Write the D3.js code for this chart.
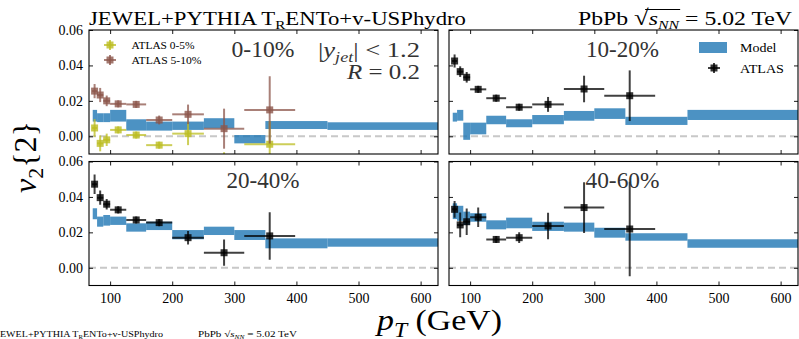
<!DOCTYPE html>
<html>
<head>
<meta charset="utf-8">
<script src="https://cdn.jsdelivr.net/npm/d3@7"></script>
<style>
  body { margin: 0; background: #fff; }
  text { font-family: "Liberation Serif", serif !important; }
</style>
</head>
<body>
<svg id="chart" width="799" height="339" font-family="Liberation Serif"></svg>
<script>
// model bins (pT, GeV) and bands
const modelEdges = [72, 79, 89, 100, 126, 158, 200, 251, 300, 350, 450, 700];
const model0_10Lo = [0.0083, 0.0080, 0.0080, 0.0083, 0.0032, 0.0032, 0.0036, 0.0045, -0.0040, 0.0041, 0.0036];
const model0_10Hi = [0.0149, 0.0130, 0.0130, 0.0149, 0.0096, 0.0083, 0.0083, 0.0102, 0.0007, 0.0086, 0.0079];
const model10_20Lo = [0.0083, 0.0088, -0.0020, 0.0011, 0.0068, 0.0051, 0.0068, 0.0088, 0.0098, 0.0064, 0.0092];
const model10_20Hi = [0.0133, 0.0149, 0.0077, 0.0077, 0.0116, 0.0096, 0.0120, 0.0143, 0.0158, 0.0110, 0.0149];
const model20_40Lo = [0.0274, 0.0232, 0.0238, 0.0242, 0.0204, 0.0213, 0.0161, 0.0185, 0.0157, 0.0110, 0.0119];
const model20_40Hi = [0.0336, 0.0289, 0.0298, 0.0289, 0.0251, 0.0260, 0.0213, 0.0232, 0.0213, 0.0166, 0.0166];
const model40_60Lo = [0.0275, 0.0265, 0.0242, 0.0260, 0.0217, 0.0223, 0.0208, 0.0204, 0.0170, 0.0153, 0.0113];
const model40_60Hi = [0.0364, 0.0350, 0.0317, 0.0308, 0.0268, 0.0283, 0.0260, 0.0255, 0.0226, 0.0195, 0.0161];

// ATLAS points
const atlasPt = [75, 84, 94.5, 113, 142, 179, 225.5, 283.5, 357];
const atlasPtLo = [71, 79, 89, 100, 126, 158, 200, 251, 316];
const atlasPtHi = [79, 89, 100, 126, 158, 200, 251, 316, 398];
const atlas0_5 = [0.0047, -0.0040, -0.0020, 0.0036, 0.0007, -0.0050, 0.0015, -0.0180, -0.0045];
const atlas0_5Err = [0.0050, 0.0045, 0.0035, 0.0020, 0.0020, 0.0020, 0.0065, 0.0090, 0.0130];
const atlas5_10 = [0.0255, 0.0233, 0.0200, 0.0183, 0.0180, 0.0092, 0.0124, 0.0043, 0.0149];
const atlas5_10Err = [0.0040, 0.0040, 0.0030, 0.0020, 0.0020, 0.0025, 0.0055, 0.0113, 0.0190];
const atlas10_20 = [0.0425, 0.0365, 0.0333, 0.0265, 0.0215, 0.0164, 0.0180, 0.0267, 0.0229];
const atlas10_20Err = [0.0037, 0.0030, 0.0030, 0.0020, 0.0020, 0.0020, 0.0042, 0.0075, 0.0143];
const atlas20_40 = [0.0472, 0.0396, 0.0359, 0.0327, 0.0270, 0.0255, 0.0170, 0.0085, 0.0180];
const atlas20_40Err = [0.0055, 0.0040, 0.0030, 0.0020, 0.0020, 0.0020, 0.0038, 0.0074, 0.0134];
const atlas40_60 = [0.0330, 0.0242, 0.0260, 0.0285, 0.0160, 0.0170, 0.0236, 0.0340, 0.0219];
const atlas40_60Err = [0.0047, 0.0070, 0.0075, 0.0055, 0.0020, 0.0030, 0.0075, 0.0143, 0.0267];

const xTicks = [100, 200, 300, 400, 500, 600];
const yTicks = [0.00, 0.02, 0.04, 0.06];

const blue = "#1f77b4", olive = "#bcbd22", brown = "#8c564b", black = "#000";

const svg = d3.select("#chart");

const cols = [[89, 438], [449, 798]];
const rows = [[30, 154], [161.5, 285.5]];

const panels = [
  {col: 0, row: 0, label: "0-10%", w: 63, lo: model0_10Lo, hi: model0_10Hi,
   sets: [{v: atlas0_5, e: atlas0_5Err, c: olive}, {v: atlas5_10, e: atlas5_10Err, c: brown}]},
  {col: 1, row: 0, label: "10-20%", w: 73, lo: model10_20Lo, hi: model10_20Hi,
   sets: [{v: atlas10_20, e: atlas10_20Err, c: black}]},
  {col: 0, row: 1, label: "20-40%", w: 73, lo: model20_40Lo, hi: model20_40Hi,
   sets: [{v: atlas20_40, e: atlas20_40Err, c: black}]},
  {col: 1, row: 1, label: "40-60%", w: 74, lo: model40_60Lo, hi: model40_60Hi,
   sets: [{v: atlas40_60, e: atlas40_60Err, c: black}]}
];

function fit(sel, len) {
  return sel.attr("textLength", len).attr("lengthAdjust", "spacingAndGlyphs");
}

function errPoint(g, x, y, xl, xh, yl, yh, c) {
  g.append("line").attr("x1", xl).attr("x2", xh).attr("y1", y).attr("y2", y)
    .attr("stroke", c).attr("stroke-width", 2).attr("stroke-opacity", 0.75);
  g.append("line").attr("x1", x).attr("x2", x).attr("y1", yl).attr("y2", yh)
    .attr("stroke", c).attr("stroke-width", 2).attr("stroke-opacity", 0.75);
  g.append("rect").attr("x", x - 3.5).attr("y", y - 3.5).attr("width", 7).attr("height", 7)
    .attr("fill", c).attr("fill-opacity", 0.8);
}

panels.forEach((p, i) => {
  const [x0, x1] = cols[p.col], [y0, y1] = rows[p.row];
  const x = d3.scaleLinear().domain([66, 628]).range([x0, x1]);
  const y = d3.scaleLinear().domain([-0.01, 0.06]).range([y1, y0]);

  svg.append("clipPath").attr("id", "clip" + i)
    .append("rect").attr("x", x0).attr("y", y0).attr("width", x1 - x0).attr("height", y1 - y0);
  const g = svg.append("g").attr("clip-path", "url(#clip" + i + ")");

  // zero line
  g.append("line").attr("x1", x0).attr("x2", x1).attr("y1", y(0)).attr("y2", y(0))
    .attr("stroke", "#c8c8c8").attr("stroke-width", 2).attr("stroke-dasharray", "7,4");

  // model bands
  p.lo.forEach((lo, k) => {
    g.append("rect")
      .attr("x", x(modelEdges[k])).attr("width", x(modelEdges[k + 1]) - x(modelEdges[k]))
      .attr("y", y(p.hi[k])).attr("height", y(lo) - y(p.hi[k]))
      .attr("fill", blue).attr("fill-opacity", 0.8);
  });

  // ATLAS points
  p.sets.forEach(s => {
    s.v.forEach((v, k) => {
      errPoint(g, x(atlasPt[k]), y(v), x(atlasPtLo[k]), x(atlasPtHi[k]),
        y(v - s.e[k]), y(v + s.e[k]), s.c);
    });
  });

  // axes with inward ticks on all sides
  const ax = svg.append("g");
  ax.append("g").attr("transform", `translate(0,${y1})`)
    .call(d3.axisBottom(x).tickValues(xTicks).tickSizeInner(-4).tickSizeOuter(0)
      .tickPadding(8).tickFormat(p.row === 1 ? d3.format("d") : ""));
  ax.append("g").attr("transform", `translate(0,${y0})`)
    .call(d3.axisTop(x).tickValues(xTicks).tickSizeInner(-4).tickSizeOuter(0).tickFormat(""));
  ax.append("g").attr("transform", `translate(${x0},0)`)
    .call(d3.axisLeft(y).tickValues(yTicks).tickSizeInner(-4).tickSizeOuter(0)
      .tickPadding(6).tickFormat(p.col === 0 ? d3.format(".2f") : ""));
  ax.append("g").attr("transform", `translate(${x1},0)`)
    .call(d3.axisRight(y).tickValues(yTicks).tickSizeInner(-4).tickSizeOuter(0).tickFormat(""));
  ax.selectAll(".domain").remove();
  ax.selectAll("g").attr("font-family", "Liberation Serif");
  ax.selectAll("text").attr("font-size", 14).attr("fill", "#000");
  ax.selectAll("line").attr("stroke", "#000").attr("stroke-width", 0.9);
  svg.append("rect").attr("x", x0).attr("y", y0).attr("width", x1 - x0).attr("height", y1 - y0)
    .attr("fill", "none").attr("stroke", "#000").attr("stroke-width", 1.1);

  // centrality label
  fit(svg.append("text").attr("x", (x0 + x1) / 2 - p.w / 2 + (p.col === 0 ? -0.5 : -1))
    .attr("y", y0 + 26.5).attr("font-size", 24).attr("fill", "#333").text(p.label), p.w);
});

// legend in 0-10%
function legendErr(cx, cy, c) {
  const g = svg.append("g");
  errPoint(g, cx, cy, cx - 6, cx + 6, cy - 5, cy + 5, c);
}
legendErr(110, 45, olive);
legendErr(110, 60, brown);
fit(svg.append("text").attr("x", 131.5).attr("y", 49).attr("font-size", 11).text("ATLAS 0-5%"), 63);
fit(svg.append("text").attr("x", 131.5).attr("y", 64).attr("font-size", 11).text("ATLAS 5-10%"), 70);

// legend in 10-20%
svg.append("rect").attr("x", 699).attr("y", 42).attr("width", 28).attr("height", 11)
  .attr("fill", blue).attr("fill-opacity", 0.8);
fit(svg.append("text").attr("x", 740).attr("y", 52).attr("font-size", 13.5).text("Model"), 36.5);
legendErr(714, 68, black);
fit(svg.append("text").attr("x", 740).attr("y", 73).attr("font-size", 13.5).text("ATLAS"), 44);

// cut labels
const cut1 = svg.append("text").attr("x", 318).attr("y", 56.5)
  .attr("font-size", 22).attr("fill", "#333");
cut1.append("tspan").text("|");
cut1.append("tspan").attr("font-style", "italic").text("y");
cut1.append("tspan").attr("font-style", "italic").attr("font-size", 15).attr("dy", 5).text("jet");
cut1.append("tspan").attr("dy", -5).text("| < 1.2");
fit(cut1, 102);
const cut2 = svg.append("text").attr("x", 347).attr("y", 78.5)
  .attr("font-size", 22).attr("fill", "#333");
cut2.append("tspan").attr("font-style", "italic").text("R");
cut2.append("tspan").text(" = 0.2");
fit(cut2, 73);

// titles
const t1 = svg.append("text").attr("x", 89).attr("y", 25).attr("font-size", 19.5);
t1.append("tspan").text("JEWEL+PYTHIA T");
t1.append("tspan").attr("font-size", 13).attr("dy", 4).text("R");
t1.append("tspan").attr("dy", -4).text("ENTo+v-USPhydro");
fit(t1, 377);

const t2 = svg.append("text").attr("x", 578).attr("y", 25).attr("font-size", 19.5);
t2.append("tspan").text("PbPb ");
t2.append("tspan").attr("font-size", 22).text("√");
t2.append("tspan").attr("font-style", "italic").text("s");
t2.append("tspan").attr("font-style", "italic").attr("font-size", 13).attr("dy", 4).text("NN");
t2.append("tspan").attr("dy", -4).text(" = 5.02 TeV");
fit(t2, 214);
// vinculum of the square root over s_NN
const n2 = t2.node();
svg.append("line")
  .attr("x1", n2.getStartPositionOfChar(5).x + n2.getExtentOfChar(5).width * 0.75)
  .attr("x2", n2.getEndPositionOfChar(8).x + 1)
  .attr("y1", 9.5).attr("y2", 9.5).attr("stroke", "#000").attr("stroke-width", 1);

// axis labels
const yl = svg.append("text").attr("transform", "translate(36,157) rotate(-90)")
  .attr("text-anchor", "middle").attr("font-size", 32);
yl.append("tspan").attr("font-style", "italic").text("v");
yl.append("tspan").attr("font-size", 22).attr("dy", 7).text("2");
yl.append("tspan").attr("dy", -7).text("{2}");

const xl = svg.append("text").attr("x", 377).attr("y", 330).attr("font-size", 30);
xl.append("tspan").attr("font-style", "italic").text("p");
xl.append("tspan").attr("font-style", "italic").attr("font-size", 21).attr("dy", 7).text("T");
xl.append("tspan").attr("dy", -7).text(" (GeV)");
fit(xl, 125);

// small caption at bottom
const c1 = svg.append("text").attr("x", -4).attr("y", 337).attr("font-size", 9);
c1.append("tspan").text("JEWEL+PYTHIA T");
c1.append("tspan").attr("font-size", 6).attr("dy", 1.5).text("R");
c1.append("tspan").attr("dy", -1.5).text("ENTo+v-USPhydro");
fit(c1, 167);
const c2 = svg.append("text").attr("x", 198).attr("y", 337).attr("font-size", 9);
c2.append("tspan").text("PbPb √");
c2.append("tspan").attr("font-style", "italic").text("s");
c2.append("tspan").attr("font-style", "italic").attr("font-size", 6).attr("dy", 1.5).text("NN");
c2.append("tspan").attr("dy", -1.5).text(" = 5.02 TeV");
fit(c2, 99);
</script>
</body>
</html>
